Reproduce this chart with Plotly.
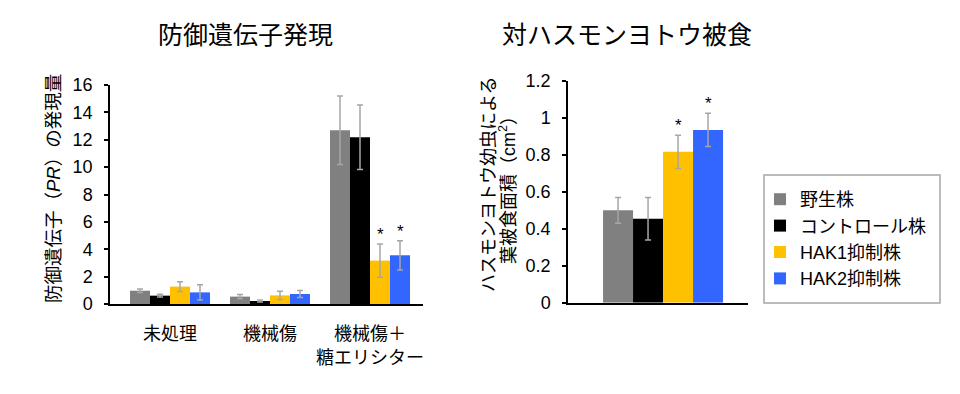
import plotly.graph_objects as go

# ---------------- data ----------------
categories = ["未処理", "機械傷", "機械傷＋<br>糖エリシター"]
series_names = ["野生株", "コントロール株", "HAK1抑制株", "HAK2抑制株"]

pr_wild = [0.97, 0.54, 12.7]
pr_wild_err = [0.13, 0.15, 2.5]
pr_ctrl = [0.61, 0.22, 12.18]
pr_ctrl_err = [0.10, 0.08, 2.35]
pr_hak1 = [1.27, 0.63, 3.17]
pr_hak1_err = [0.35, 0.30, 1.22]
pr_hak2 = [0.85, 0.73, 3.56]
pr_hak2_err = [0.55, 0.25, 1.07]
pr_signif = [[False, False, False], [False, False, False],
             [False, False, True], [False, False, True]]

feeding_category = ["被食"]
feeding_values = [0.50, 0.455, 0.817, 0.935]
feeding_err = [0.07, 0.115, 0.09, 0.09]
feeding_signif = [False, False, True, True]

pr_ticks = [0, 2, 4, 6, 8, 10, 12, 14, 16]
feeding_ticks = [0, 0.2, 0.4, 0.6, 0.8, 1, 1.2]

left_title = "防御遺伝子発現"
right_title = "対ハスモンヨトウ被食"
left_ylabel = "防御遺伝子（<i>PR</i>）の発現量"
right_ylabel_lines = ["ハスモンヨトウ幼虫による", "葉被食面積（cm<sup>2</sup>）"]

# ---------------- style ----------------
colors = ["#808080", "#000000", "#FFC000", "#3366FF"]
err_color = "#A6A6A6"
FONT = "Liberation Sans, Arial, Noto Sans CJK JP, sans-serif"
W, H = 960, 394

pr_vals = [pr_wild, pr_ctrl, pr_hak1, pr_hak2]
pr_errs = [pr_wild_err, pr_ctrl_err, pr_hak1_err, pr_hak2_err]

fig = go.Figure()

# left chart: grouped bars
n = len(series_names)
left_group = 0.8
lw = left_group / n
for i in range(n):
    off = -left_group / 2 + i * lw
    fig.add_trace(go.Bar(
        x=categories, y=pr_vals[i], name=series_names[i],
        marker=dict(color=colors[i], line=dict(width=0)),
        width=lw, offset=off,
        error_y=dict(type="data", array=pr_errs[i], color=err_color,
                     thickness=1.5, width=3),
        xaxis="x", yaxis="y", showlegend=False,
    ))

# right chart
right_group = 2 / 3
rw = right_group / n
for i in range(n):
    off = -right_group / 2 + i * rw
    fig.add_trace(go.Bar(
        x=feeding_category, y=[feeding_values[i]], name=series_names[i],
        marker=dict(color=colors[i], line=dict(width=0)),
        width=rw, offset=off,
        error_y=dict(type="data", array=[feeding_err[i]], color=err_color,
                     thickness=1.5, width=3),
        xaxis="x2", yaxis="y2", showlegend=True,
    ))

annotations = []
# significance stars
for i in range(n):
    for j, cat in enumerate(categories):
        if pr_signif[i][j]:
            annotations.append(dict(
                x=j - left_group / 2 + (i + 0.5) * lw, y=pr_vals[i][j] + pr_errs[i][j],
                xref="x", yref="y", text="*", showarrow=False,
                yanchor="bottom", yshift=-2, font=dict(size=17, color="black", family=FONT)))
    if feeding_signif[i]:
        annotations.append(dict(
            x=-right_group / 2 + (i + 0.5) * rw, y=feeding_values[i] + feeding_err[i],
            xref="x2", yref="y2", text="*", showarrow=False,
            yanchor="bottom", yshift=-2, font=dict(size=17, color="black", family=FONT)))

# chart titles
annotations.append(dict(text=left_title, x=246 / W, y=1 - 35 / H, xref="paper", yref="paper",
                        showarrow=False, xanchor="center", yanchor="middle",
                        font=dict(size=25, color="black", family=FONT)))
annotations.append(dict(text=right_title, x=627 / W, y=1 - 35 / H, xref="paper", yref="paper",
                        showarrow=False, xanchor="center", yanchor="middle",
                        font=dict(size=25, color="black", family=FONT)))

# y axis labels (rotated)
annotations.append(dict(text=left_ylabel, x=54 / W, y=1 - 189 / H, xref="paper", yref="paper",
                        showarrow=False, xanchor="center", yanchor="middle", textangle=-90,
                        font=dict(size=18.5, color="black", family=FONT)))
for k, xpx in enumerate([489, 507]):
    annotations.append(dict(text=right_ylabel_lines[k], x=xpx / W, y=1 - 185 / H,
                            xref="paper", yref="paper", showarrow=False,
                            xanchor="center", yanchor="middle", textangle=-90,
                            font=dict(size=18, color="black", family=FONT)))

axis_common = dict(showline=True, linecolor="black", linewidth=1.5, showgrid=False,
                   zeroline=False, automargin=False,
                   tickfont=dict(size=18, color="black", family=FONT))

fig.update_layout(
    template="none",
    width=W, height=H, autosize=False,
    margin=dict(l=0, r=0, t=0, b=0, pad=0, autoexpand=False),
    paper_bgcolor="white", plot_bgcolor="white",
    barmode="group",
    font=dict(family=FONT, color="black"),
    xaxis=dict(domain=[110 / W, 423 / W], range=[-0.6, 2.53], type="category",
               ticks="", ticklabelstandoff=13, anchor="y", **axis_common),
    yaxis=dict(domain=[1 - 304 / H, 1 - 85 / H], range=[0, 16], tickvals=pr_ticks,
               ticks="outside", ticklen=4, tickcolor="black", tickwidth=1.5,
               ticklabelstandoff=8, anchor="x", **axis_common),
    xaxis2=dict(domain=[568 / W, 748 / W], range=[-0.528, 0.472], type="category",
                ticks="", showticklabels=False, anchor="y2", **axis_common),
    yaxis2=dict(domain=[1 - 302.7 / H, 1 - 81 / H], range=[0, 1.2], tickvals=feeding_ticks,
                ticktext=[str(t) for t in feeding_ticks],
                ticks="outside", ticklen=4, tickcolor="black", tickwidth=1.5,
                ticklabelstandoff=8, anchor="x2", **axis_common),
    legend=dict(x=760 / W, y=1 - 181 / H, xanchor="left", yanchor="top",
                borderwidth=0, bgcolor="rgba(0,0,0,0)",
                font=dict(size=18, color="black", family=FONT),
                tracegroupgap=8, itemwidth=30),
    shapes=[dict(type="rect", xref="paper", yref="paper",
                 x0=764 / W, x1=940 / W, y0=1 - 303 / H, y1=1 - 175 / H,
                 line=dict(color="#A6A6A6", width=1.5), fillcolor="rgba(0,0,0,0)")],
    annotations=annotations,
)

fig.write_html("out.html", config={"displayModeBar": False},
               post_script="document.body.style.margin='0';document.body.style.padding='0';")
